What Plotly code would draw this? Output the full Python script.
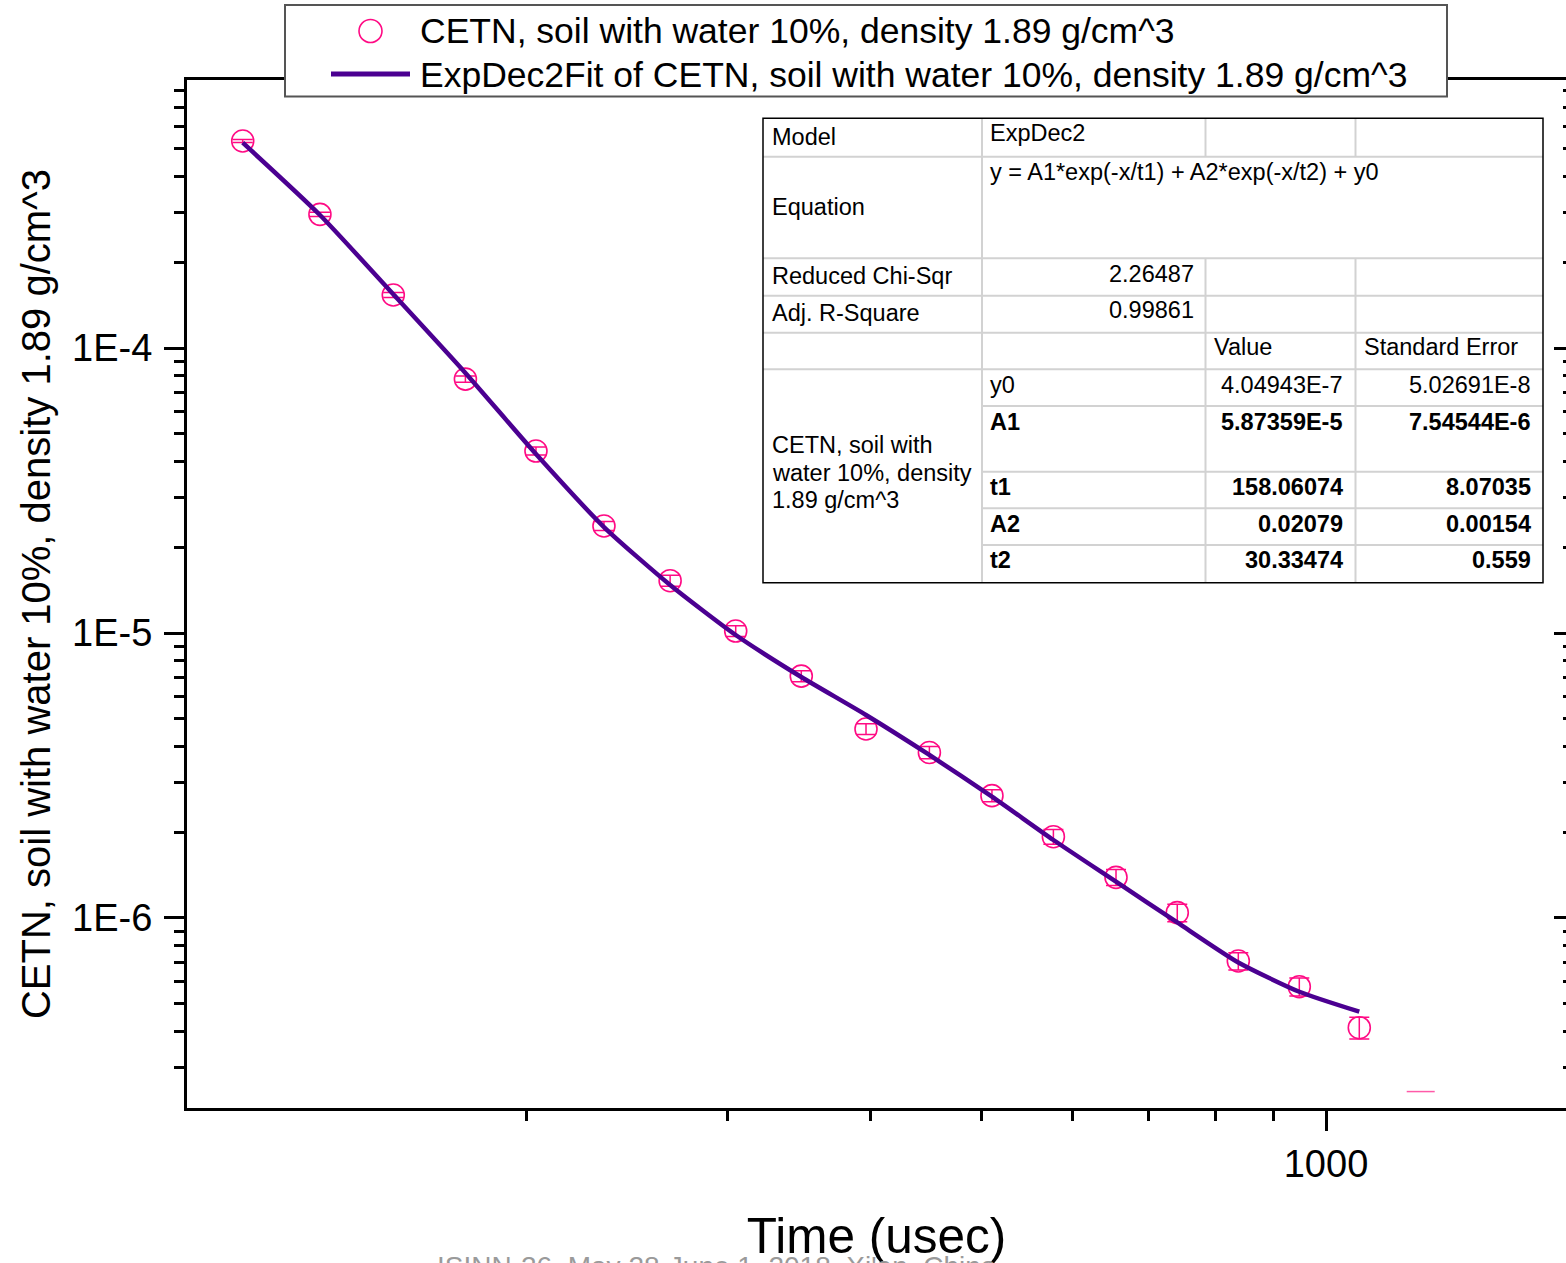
import plotly.graph_objects as go

# ---------------- data ----------------
time_us = [113.0, 132.0, 153.0, 176.9, 203.9, 233.8, 267.1, 304.8, 347.8,
           396.2, 450.1, 510.5, 577.7, 655.3, 741.3, 838.2, 947.7, 1069.3]
cetn = [5.325e-4, 2.944e-4, 1.535e-4, 7.78e-5, 4.35e-5, 2.374e-5, 1.526e-5,
        1.016e-5, 7.06e-6, 4.605e-6, 3.808e-6, 2.687e-6, 1.929e-6, 1.389e-6,
        1.044e-6, 7.064e-7, 5.741e-7, 4.122e-7]
cetn_err = [6.5e-6, 4.8e-6, 3.1e-6, 1.9e-6, 1.4e-6, 8.6e-7, 6.7e-7, 4.4e-7,
            3.1e-7, 2.0e-7, 1.9e-7, 1.3e-7, 1.16e-7, 9.0e-8, 7.3e-8, 4.9e-8,
            4.2e-8, 3.6e-8]

fit_time = [113.0, 132.0, 153.0, 176.9, 203.9, 233.8, 267.1, 304.8, 347.8,
            396.2, 450.1, 510.5, 577.7, 655.3, 741.3, 838.2, 947.7, 1069.3]
fit_cetn = [5.253e-4, 2.929e-4, 1.543e-4, 8.17e-5, 4.246e-5, 2.354e-5,
            1.474e-5, 9.84e-6, 7.007e-6, 5.157e-6, 3.733e-6, 2.665e-6,
            1.878e-6, 1.341e-6, 9.643e-7, 6.98e-7, 5.51e-7, 4.69e-7]

# lone error-bar cap visible near the bottom right
stray_time = [1210.0]
stray_cetn = [2.46e-7]

x_major = [1000]
x_major_text = ["1000"]
x_minor = [200, 300, 400, 500, 600, 700, 800, 900]
y_major = [1e-6, 1e-5, 1e-4]
y_major_text = ["1E-6", "1E-5", "1E-4"]
y_minor = [3e-7, 4e-7, 5e-7, 6e-7, 7e-7, 8e-7, 9e-7,
           2e-6, 3e-6, 4e-6, 5e-6, 6e-6, 7e-6, 8e-6, 9e-6,
           2e-5, 3e-5, 4e-5, 5e-5, 6e-5, 7e-5, 8e-5, 9e-5,
           2e-4, 3e-4, 4e-4, 5e-4, 6e-4, 7e-4, 8e-4]

series_name = "CETN, soil with water 10%, density 1.89 g/cm^3"
fit_name = "ExpDec2Fit of CETN, soil with water 10%, density 1.89 g/cm^3"
footer = "ISINN-26, May 28-June 1, 2018, Xi'an, China"

# fit report table
tbl_model = "ExpDec2"
tbl_equation = "y = A1*exp(-x/t1) + A2*exp(-x/t2) + y0"
tbl_chi = "2.26487"
tbl_r2 = "0.99861"
par_names = ["y0", "A1", "t1", "A2", "t2"]
par_values = ["4.04943E-7", "5.87359E-5", "158.06074", "0.02079", "30.33474"]
par_errors = ["5.02691E-8", "7.54544E-6", "8.07035", "0.00154", "0.559"]
par_bold = [False, True, True, True, True]

# ---------------- styling ----------------
FONT = "Liberation Sans, Arial, sans-serif"
PINK = "#FF0A84"
PURPLE = "#4B0091"
W, H = 1566, 1263
L, R, T, B = 187, 0, 80, 155
PW, PH = W - L - R, H - T - B


def px(x):
    return (x - L) / PW


def py(y):
    return (H - B - y) / PH


fig = go.Figure()

fig.add_trace(go.Scatter(
    x=time_us, y=cetn, mode="markers", name=series_name, showlegend=False,
    marker=dict(symbol="circle-open", size=22, color=PINK, line=dict(width=1.6, color=PINK)),
    error_y=dict(type="data", array=cetn_err, visible=True, color=PINK, thickness=1.5, width=10),
))
fig.add_trace(go.Scatter(
    x=stray_time, y=stray_cetn, mode="markers", showlegend=False, name="",
    marker=dict(symbol="line-ew-open", size=20, color="#FF5AA8", line=dict(width=1.5, color="#FF5AA8")),
))
# fit curve plotted against the (identical) right-hand log axis so that axis is drawn
fig.add_trace(go.Scatter(
    x=fit_time, y=fit_cetn, mode="lines", name=fit_name, showlegend=False, yaxis="y2",
    line=dict(color=PURPLE, width=4.5, shape="spline", smoothing=0.6),
))

XR = [2.00437, 3.20979]
YR = [-6.6667, -3.0596]

fig.update_layout(
    width=W, height=H,
    margin=dict(l=L, r=R, t=T, b=B, autoexpand=False),
    paper_bgcolor="white", plot_bgcolor="white",
    font=dict(family=FONT, color="black"),
    showlegend=False,
    xaxis=dict(
        type="log", range=XR, showgrid=False, zeroline=False,
        showline=True, linecolor="black", linewidth=3, mirror=True,
        ticks="outside", ticklen=20, tickwidth=3, tickcolor="black",
        tickvals=x_major, ticktext=x_major_text,
        tickfont=dict(size=38, family=FONT, color="black"),
        minor=dict(tickvals=x_minor, ticks="outside", ticklen=10, tickwidth=3, tickcolor="black"),
        title=dict(text="Time (usec)", font=dict(size=49.5, family=FONT, color="black"), standoff=36),
        automargin=False,
    ),
    yaxis=dict(
        type="log", range=YR, showgrid=False, zeroline=False,
        showline=True, linecolor="black", linewidth=3, mirror=False,
        ticks="outside", ticklen=20, tickwidth=3, tickcolor="black",
        tickvals=y_major, ticktext=y_major_text, ticklabelstandoff=4,
        tickfont=dict(size=38, family=FONT, color="black"),
        minor=dict(tickvals=y_minor, ticks="outside", ticklen=10, tickwidth=3, tickcolor="black"),
        title=dict(text=series_name, font=dict(size=40, family=FONT, color="black"), standoff=10),
        automargin=False,
    ),
    yaxis2=dict(
        type="log", range=YR, overlaying="y", side="right", anchor="x",
        showgrid=False, zeroline=False, showline=False, showticklabels=False,
        ticks="inside", ticklen=12, tickwidth=3, tickcolor="black",
        tickvals=y_major,
        minor=dict(tickvals=y_minor, ticks="inside", ticklen=3, tickwidth=3, tickcolor="black"),
    ),
)

shapes = []
anns = []

# ---------- legend (drawn by hand to match the Origin layout) ----------
shapes.append(dict(type="rect", xref="paper", yref="paper", layer="above",
                   x0=px(285), x1=px(1447), y0=py(96.5), y1=py(5),
                   line=dict(color="#555555", width=2), fillcolor="white"))
shapes.append(dict(type="circle", xref="paper", yref="paper", layer="above",
                   x0=px(370.5 - 11.5), x1=px(370.5 + 11.5), y0=py(31 + 11.5), y1=py(31 - 11.5),
                   line=dict(color=PINK, width=1.6), fillcolor="rgba(0,0,0,0)"))
shapes.append(dict(type="line", xref="paper", yref="paper", layer="above",
                   x0=px(331), x1=px(410), y0=py(74), y1=py(74),
                   line=dict(color=PURPLE, width=5)))
anns.append(dict(text=series_name, xref="paper", yref="paper", x=px(418), y=py(31),
                 xanchor="left", yanchor="middle", showarrow=False,
                 font=dict(size=35.5, family=FONT, color="black")))
anns.append(dict(text=fit_name, xref="paper", yref="paper", x=px(418), y=py(75),
                 xanchor="left", yanchor="middle", showarrow=False,
                 font=dict(size=35.5, family=FONT, color="black")))

# ---------- fit report table ----------
TX0, TX1, TY0, TY1 = 763, 1543, 118.3, 582.7
C1, C2, C3 = 982, 1205.5, 1355.5
GRAY = "#d2d2d2"


def hline(y, x0, x1, color=GRAY, w=2):
    shapes.append(dict(type="line", xref="paper", yref="paper", layer="above",
                       x0=px(x0), x1=px(x1), y0=py(y), y1=py(y), line=dict(color=color, width=w)))


def vline(x, y0, y1, color=GRAY, w=2):
    shapes.append(dict(type="line", xref="paper", yref="paper", layer="above",
                       x0=px(x), x1=px(x), y0=py(y0), y1=py(y1), line=dict(color=color, width=w)))


shapes.append(dict(type="rect", xref="paper", yref="paper", layer="above",
                   x0=px(TX0), x1=px(TX1), y0=py(TY1), y1=py(TY0),
                   line=dict(color="white", width=0), fillcolor="white"))
for yy in [156.7, 258.3, 295.7, 332.7, 369.3]:
    hline(yy, TX0, TX1)
for yy in [406, 471.7, 508.3, 545]:
    hline(yy, C1, TX1)
vline(C1, TY0, TY1)
for xx in [C2, C3]:
    vline(xx, TY0, 156.7)
    vline(xx, 258.3, TY1)
shapes.append(dict(type="rect", xref="paper", yref="paper", layer="above",
                   x0=px(TX0), x1=px(TX1), y0=py(TY1), y1=py(TY0),
                   line=dict(color="black", width=1.5), fillcolor="rgba(0,0,0,0)"))

TFS = 23.5


def tcell(text, x, y, anchor="left", bold=False):
    t = f"<b>{text}</b>" if bold else text
    dx = -3 if anchor == "left" else 2
    anns.append(dict(text=t, xref="paper", yref="paper", x=px(x + dx), y=py(y),
                     xanchor=anchor, yanchor="middle", showarrow=False, align=anchor,
                     font=dict(size=TFS, family=FONT, color="black")))


tcell("Model", 773, 137)
tcell(tbl_model, 991, 133)
tcell(tbl_equation, 991, 172)
tcell("Equation", 773, 207)
tcell("Reduced Chi-Sqr", 773, 276)
tcell(tbl_chi, 1193.5, 273.5, "right")
tcell("Adj. R-Square", 773, 312.5)
tcell(tbl_r2, 1193.5, 310, "right")
tcell("Value", 1214.5, 347.5)
tcell("Standard Error", 1364.5, 347.5)
row_y = [385, 421.5, 487, 523.5, 560]
for name, val, err, b, yy in zip(par_names, par_values, par_errors, par_bold, row_y):
    tcell(name, 991, yy, bold=b)
    tcell(val, 1343, yy, "right", bold=b)
    tcell(err, 1531, yy, "right", bold=b)
for i, line in enumerate(["CETN, soil with", "water 10%, density", "1.89 g/cm^3"]):
    tcell(line, 773, 445 + i * 27.5)

# ---------- footer (clipped at the bottom edge) ----------
anns.append(dict(text=footer, xref="paper", yref="paper", x=px(717), y=py(1249),
                 xanchor="center", yanchor="top", showarrow=False,
                 font=dict(size=28, family=FONT, color="#9a9a9a")))

fig.update_layout(shapes=shapes, annotations=anns)
fig.write_html("out.html")
